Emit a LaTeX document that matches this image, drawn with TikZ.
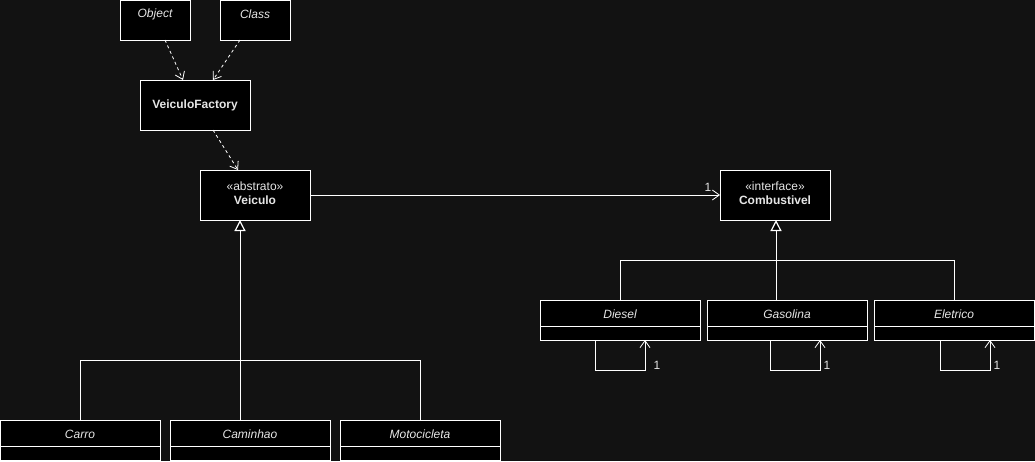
\documentclass[tikz,border=0pt]{standalone}
\usepackage{fontspec}
\setmainfont{Liberation Sans}
\usetikzlibrary{arrows.meta}
\definecolor{bg}{RGB}{18,18,18}
\definecolor{txt}{RGB}{230,230,230}
\begin{document}
\begin{tikzpicture}[x=1pt,y=-1pt,
  every node/.style={font=\fontsize{12}{14}\selectfont, text=txt, inner sep=0pt},
  box/.style={draw=white, fill=black, line width=0.8pt},
  wire/.style={draw=white, line width=0.8pt},
  dep/.style={wire, dashed, dash pattern=on 3pt off 3pt, -{Straight Barb[length=7pt,width=10pt]}},
  assoc/.style={wire, -{Straight Barb[length=7pt,width=10pt]}},
  inh/.style={wire, {Triangle[open,length=11pt,width=11pt,fill=black,line width=1.2pt]}-}]
\fill[bg] (0,0) rectangle (1035,461);
\useasboundingbox (0,0) rectangle (1035,461);
% top boxes
\draw[box] (120,0) rectangle (190,40);
\node (object) at (155,14) {\itshape Object};
\coordinate (objb) at (165,40);
\draw[box] (220,0) rectangle (290,40);
\node (class) at (255,14) {\itshape Class};
\coordinate (clsb) at (240,40);
\draw[box] (140,80) rectangle (250,130);
\node (factory) at (195,105) {\bfseries VeiculoFactory};
\coordinate (facta) at (183,80);
\coordinate (factb) at (213,80);
\coordinate (factc) at (213,130);
% Veiculo
\draw[box] (200,170) rectangle (310,220);
\node (veiculo) at (255,195) {\begin{tabular}{c}«abstrato»\\[0pt]\bfseries Veiculo\end{tabular}};
\coordinate (veit) at (238,170);
\coordinate (veir) at (310,195);
\coordinate (veib) at (240,220);
% Combustivel
\draw[box] (720,170) rectangle (830,220);
\node (comb) at (775,195) {\begin{tabular}{c}«interface»\\[0pt]\bfseries Combustivel\end{tabular}};
\coordinate (combl) at (720,195);
\coordinate (combb) at (776,220);
% deps
\draw[dep] (objb) -- (facta);
\draw[dep] (clsb) -- (factb);
\draw[dep] (factc) -- (veit);
\draw[assoc] (veir) -- (combl);
\node (one) at (708,187) {1};
% subclasses of Veiculo
\foreach \n/\x in {Carro/0,Caminhao/170,Motocicleta/340}{
  \draw[box] (\x,420) rectangle ++(160,40);
  \draw[wire] (\x,446) -- ++(160,0);
  \node (\n) at (\x+80,434) {\itshape \n};
}
\coordinate (j1) at (80,360);
\coordinate (j2) at (420,360);
\coordinate (cam) at (240,420);
\draw[inh] (veib) -- (cam);
\draw[wire] (80,420) -- (j1) -- (j2) -- (420,420);
% subclasses of Combustivel
\foreach \n/\x/\c in {Diesel/540/620,Gasolina/707/787,Eletrico/874/954}{
  \draw[box] (\x,300) rectangle ++(160,40);
  \draw[wire] (\x,326) -- ++(160,0);
  \node (\n) at (\x+80,314) {\itshape \n};
}
\coordinate (gas) at (776,300);
\draw[inh] (combb) -- (gas);
\draw[wire] (620,300) -- (620,260) -- (954,260) -- (954,300);
% self loops
\foreach \a/\b/\l in {595/645/657,770/820/827,940/990/997}{
  \draw[assoc] (\a,340) -- (\a,370) -- (\b,370) -- (\b,340);
  \node at (\l,365) {1};
}
\end{tikzpicture}
\end{document}
